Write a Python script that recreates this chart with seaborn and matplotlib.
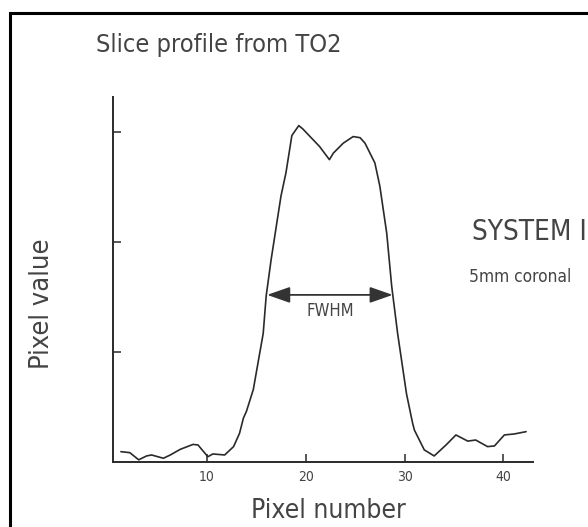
import matplotlib
matplotlib.use("Agg")
import matplotlib.pyplot as plt
import seaborn as sns
import pandas as pd
from matplotlib.patches import Rectangle

# data
pixel_number = [1.3, 2.2, 3.1, 3.9, 4.4, 5.6, 6.3, 7.3, 8.6, 9.1, 10.1, 10.6, 11.8,
                12.7, 13.3, 13.7, 14.0, 14.7, 15.7, 16.0, 16.5, 17.5, 18.0, 18.6,
                19.3, 19.7, 21.4, 22.4, 22.8, 23.8, 24.8, 25.5, 26.0, 26.5, 27.0,
                27.5, 28.2, 28.7, 29.3, 30.2, 30.8, 31.0, 32.0, 33.0, 34.2, 35.2,
                36.4, 37.2, 38.4, 39.1, 40.1, 41.1, 42.3]
pixel_value = [0.094, 0.085, 0.02, 0.055, 0.064, 0.034, 0.064, 0.115, 0.16, 0.155,
               0.048, 0.073, 0.064, 0.14, 0.26, 0.40, 0.46, 0.66, 1.17, 1.51, 1.84,
               2.42, 2.63, 2.97, 3.06, 3.03, 2.87, 2.75, 2.81, 2.90, 2.96, 2.95,
               2.90, 2.81, 2.72, 2.51, 2.08, 1.60, 1.17, 0.62, 0.36, 0.29, 0.11,
               0.055, 0.155, 0.246, 0.19, 0.2, 0.14, 0.146, 0.246, 0.255, 0.276]
x_ticks = [10, 20, 30, 40]
y_ticks = [1, 2, 3]
fwhm_left, fwhm_right, fwhm_level = 16.1, 28.8, 1.52

df = pd.DataFrame({"Pixel number": pixel_number, "Pixel value": pixel_value})

sns.set_theme(style="white")
plt.rcParams["font.family"] = ["DejaVu Sans"]
plt.rcParams["font.stretch"] = "condensed"

W, H = 588, 527
fig = plt.figure(figsize=(W / 100, H / 100), dpi=100)
ax = fig.add_axes([113 / W, 1 - 462 / H, (533 - 113) / W, (462 - 97) / H])

sns.lineplot(data=df, x="Pixel number", y="Pixel value", ax=ax, sort=False,
             estimator=None, color="#2a2a2a", linewidth=1.2)

ax.set_xlim(0.5, 43.0)
ax.set_ylim(0, 3.32)
for s in ["top", "right"]:
    ax.spines[s].set_visible(False)
for s in ["left", "bottom"]:
    ax.spines[s].set_color("#2a2a2a")
    ax.spines[s].set_linewidth(1.4)

ax.set_xticks(x_ticks)
ax.set_xticklabels([str(t) for t in x_ticks], fontsize=10, color="#444444")
ax.set_yticks(y_ticks)
ax.set_yticklabels([])
ax.tick_params(axis="both", direction="in", length=6, width=1.1, color="#2a2a2a",
               bottom=True, left=True, pad=6)

ax.set_xlabel("Pixel number", fontsize=19, color="#444444", labelpad=10)
ax.set_ylabel("Pixel value", fontsize=19.5, color="#444444", labelpad=36)
ax.xaxis.label.set_x(0.512)
ax.yaxis.label.set_y(0.433)

ax.annotate("", xy=(fwhm_left, fwhm_level), xytext=(fwhm_right, fwhm_level),
            arrowprops=dict(arrowstyle="<|-|>,head_length=1.0,head_width=0.35",
                            color="#333333", lw=1.3,
                            mutation_scale=14, shrinkA=0, shrinkB=0))
ax.text((fwhm_left + fwhm_right) / 2, fwhm_level - 0.15, "FWHM", ha="center",
        va="center", fontsize=12, color="#444444")

fig.text(96 / W, 1 - 45 / H, "Slice profile from TO2", ha="left", va="center",
         fontsize=18.2, color="#444444")
fig.text(472 / W, 1 - 232 / H, "SYSTEM I", ha="left", va="center",
         fontsize=20, color="#444444")
fig.text(469 / W, 1 - 277 / H, "5mm coronal", ha="left", va="center",
         fontsize=12.4, color="#444444")

fig.patches.append(Rectangle((10 / W, -0.05), 1.2, 1 - 13 / H + 0.05,
                             transform=fig.transFigure, fill=False,
                             edgecolor="black", linewidth=2.2))

fig.savefig("out.png", dpi=100)
